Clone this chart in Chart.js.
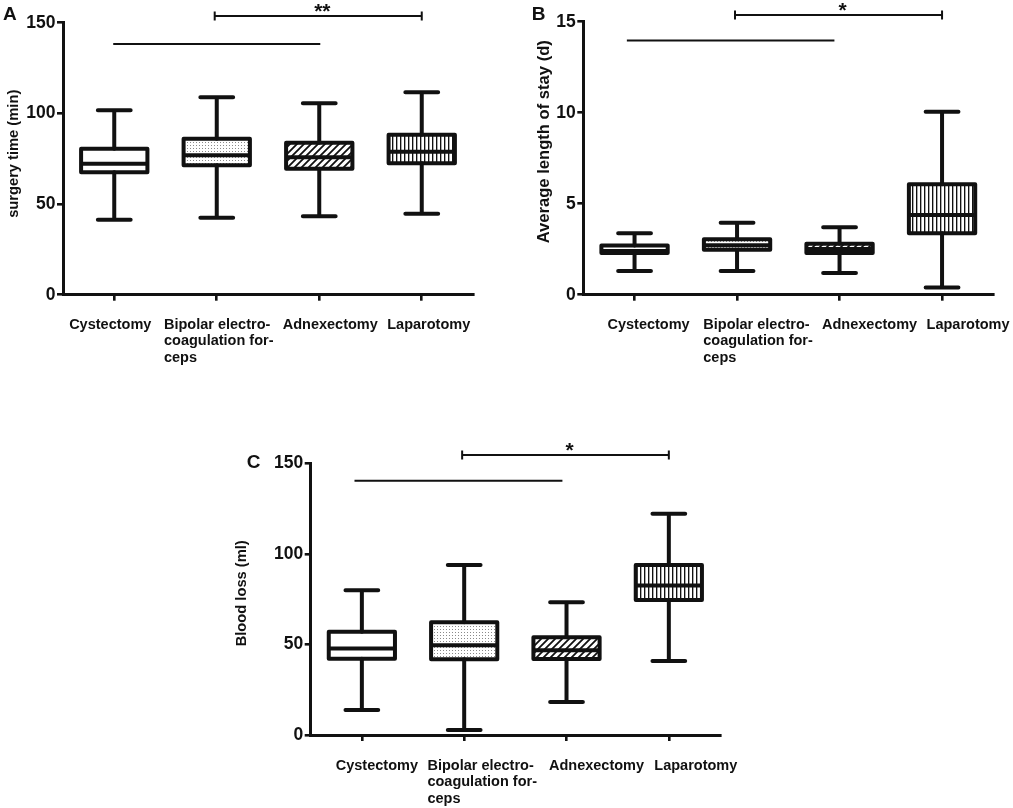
<!DOCTYPE html>
<html>
<head>
<meta charset="utf-8">
<script src="https://cdn.jsdelivr.net/npm/chart.js@4.4.1/dist/chart.umd.min.js"></script>
<style>
  html, body { margin: 0; padding: 0; background: #fff; }
  body { width: 1013px; height: 808px; position: relative; overflow: hidden; }
  canvas { position: absolute; }
</style>
</head>
<body>
<canvas id="chartA" width="500" height="370" style="left:0;top:0"></canvas>
<canvas id="chartB" width="513" height="370" style="left:500px;top:0"></canvas>
<canvas id="chartC" width="560" height="408" style="left:220px;top:400px"></canvas>
<script>
var categories = ['Cystectomy', 'Bipolar electro-coagulation forceps', 'Adnexectomy', 'Laparotomy'];
var tickLabels = [['Cystectomy'], ['Bipolar electro-', 'coagulation for-', 'ceps'], ['Adnexectomy'], ['Laparotomy']];

// A - surgery time (min)
var surgeryMin    = [41.3, 42.5, 43.2, 44.7];
var surgeryQ1     = [67.5, 71.4, 69.5, 72.5];
var surgeryMedian = [72.2, 76.9, 75.8, 78.9];
var surgeryQ3     = [80.5, 86.0, 83.8, 88.2];
var surgeryMax    = [101.7, 108.9, 105.6, 111.6];
var surgeryBracket = [0.98, 3.0, 153.7];   // from category, to category, level
var surgeryLine    = [-0.01, 2.01, 138.3];
var surgeryTicks   = [0, 50, 100, 150];

// B - average length of stay (d)
var stayMin    = [1.30, 1.30, 1.19, 0.40];
var stayQ1     = [2.29, 2.47, 2.29, 3.37];
var stayMedian = [2.40, 2.72, 2.51, 4.38];
var stayQ3     = [2.71, 3.04, 2.80, 6.07];
var stayMax    = [3.37, 3.96, 3.70, 10.05];
var stayBracket = [0.98, 3.0, 15.37];
var stayLine    = [-0.075, 1.95, 13.97];
var stayTicks   = [0, 5, 10, 15];

// C - blood loss (ml)
var bloodMin    = [13.8, 2.8, 18.2, 40.9];
var bloodQ1     = [42.1, 41.8, 42.0, 74.5];
var bloodMedian = [47.7, 49.5, 46.8, 82.6];
var bloodQ3     = [57.0, 62.2, 53.9, 93.9];
var bloodMax    = [79.9, 93.9, 73.3, 122.2];
var bloodBracket = [0.98, 3.0, 154.6];
var bloodLine    = [-0.072, 1.96, 140.3];
var bloodTicks   = [0, 50, 100, 150];

var FONT = '"Liberation Sans", Arial, Helvetica, sans-serif';
var INK = '#111';
Chart.defaults.font.family = FONT;

function makePattern(kind) {
  var c = document.createElement('canvas');
  var g;
  if (kind === 'dots') {
    c.width = 3; c.height = 3; g = c.getContext('2d');
    g.fillStyle = '#fff'; g.fillRect(0, 0, 3, 3);
    g.fillStyle = '#8a8a8a'; g.fillRect(1, 1, 1, 1);
  } else if (kind === 'diag') {
    c.width = 7; c.height = 7; g = c.getContext('2d');
    g.fillStyle = '#fff'; g.fillRect(0, 0, 7, 7);
    g.strokeStyle = INK; g.lineWidth = 1.8;
    g.beginPath();
    g.moveTo(-1, 8); g.lineTo(8, -1);
    g.moveTo(-1, 1); g.lineTo(1, -1);
    g.moveTo(6, 8); g.lineTo(8, 6);
    g.stroke();
  } else {
    c.width = 4; c.height = 4; g = c.getContext('2d');
    g.fillStyle = '#fff'; g.fillRect(0, 0, 4, 4);
    g.fillStyle = INK; g.fillRect(0, 0, 1, 4);
    g.fillStyle = '#aaa'; g.fillRect(1, 0, 1, 4);
  }
  return g.createPattern(c, 'repeat');
}

var boxFills = ['#ffffff', makePattern('dots'), makePattern('diag'), makePattern('vert')];

function boxPanel(id, cfg) {
  var decor = {
    id: 'boxDecor',
    afterDatasetsDraw: function(chart) {
      var ctx = chart.ctx, x = chart.scales.x, y = chart.scales.y;
      var bars = chart.getDatasetMeta(0).data;
      var step = x.getPixelForValue(1) - x.getPixelForValue(0);
      var capHalf = step * 0.16;
      ctx.save();
      ctx.strokeStyle = INK;
      ctx.lineCap = 'round';
      bars.forEach(function(bar, i) {
        var cx = bar.x, w = bar.width;
        var top = y.getPixelForValue(cfg.q3[i]), bot = y.getPixelForValue(cfg.q1[i]);
        var hi = y.getPixelForValue(cfg.max[i]), lo = y.getPixelForValue(cfg.min[i]);
        var med = y.getPixelForValue(cfg.median[i]);
        ctx.lineWidth = 4;
        ctx.beginPath();
        ctx.moveTo(cx, top); ctx.lineTo(cx, hi);
        ctx.moveTo(cx - capHalf, hi); ctx.lineTo(cx + capHalf, hi);
        ctx.moveTo(cx, bot); ctx.lineTo(cx, lo);
        ctx.moveTo(cx - capHalf, lo); ctx.lineTo(cx + capHalf, lo);
        ctx.stroke();
        ctx.lineJoin = 'round';
        ctx.strokeRect(cx - w / 2, top, w, bot - top);
        ctx.lineCap = 'butt';
        ctx.beginPath();
        ctx.moveTo(cx - w / 2, med); ctx.lineTo(cx + w / 2, med);
        ctx.stroke();
        ctx.lineCap = 'round';
      });
      ctx.restore();
    },
    afterDraw: function(chart) {
      var ctx = chart.ctx, x = chart.scales.x, y = chart.scales.y;
      ctx.save();
      ctx.strokeStyle = INK; ctx.fillStyle = INK;
      ctx.lineWidth = 2; ctx.lineCap = 'butt';

      // significance bracket with end ticks, and the plain line under it
      var bx1 = x.getPixelForValue(cfg.bracket[0]), bx2 = x.getPixelForValue(cfg.bracket[1]);
      var by = y.getPixelForValue(cfg.bracket[2]);
      ctx.beginPath();
      ctx.moveTo(bx1, by); ctx.lineTo(bx2, by);
      ctx.moveTo(bx1, by - 4.5); ctx.lineTo(bx1, by + 4.5);
      ctx.moveTo(bx2, by - 4.5); ctx.lineTo(bx2, by + 4.5);
      var lx1 = x.getPixelForValue(cfg.line[0]), lx2 = x.getPixelForValue(cfg.line[1]);
      var ly = y.getPixelForValue(cfg.line[2]);
      ctx.moveTo(lx1, ly); ctx.lineTo(lx2, ly);
      ctx.stroke();

      ctx.font = 'bold 21px ' + FONT;
      ctx.textAlign = 'center'; ctx.textBaseline = 'alphabetic';
      ctx.fillText(cfg.stars, x.getPixelForValue(2.03), by + 2.5);

      // category labels: line blocks, left aligned inside, centred near the tick
      ctx.font = 'bold 14.5px ' + FONT;
      ctx.textAlign = 'left';
      tickLabels.forEach(function(lines, i) {
        var w = 0;
        lines.forEach(function(l) { w = Math.max(w, ctx.measureText(l).width); });
        var left = x.getPixelForValue(i) + cfg.nudge[i] - w / 2;
        lines.forEach(function(l, k) {
          ctx.fillText(l, left, chart.chartArea.bottom + cfg.labelDy + k * 16.4);
        });
      });

      // panel letter
      ctx.font = 'bold 19px ' + FONT;
      ctx.fillText(cfg.letter[0], cfg.letter[1], cfg.letter[2]);

      // y axis title
      ctx.font = 'bold ' + cfg.title[3] + 'px ' + FONT;
      ctx.translate(cfg.title[1], cfg.title[2]);
      ctx.rotate(-Math.PI / 2);
      ctx.textAlign = 'center'; ctx.textBaseline = 'middle';
      ctx.fillText(cfg.title[0], 0, 0);
      ctx.restore();
    }
  };

  return new Chart(document.getElementById(id), {
    type: 'bar',
    data: {
      labels: categories,
      datasets: [{
        data: cfg.q1.map(function(v, i) { return [v, cfg.q3[i]]; }),
        backgroundColor: boxFills,
        borderWidth: 0,
        barPercentage: 0.647,
        categoryPercentage: 1
      }]
    },
    options: {
      responsive: false,
      animation: false,
      events: [],
      layout: { padding: cfg.padding },
      plugins: { legend: { display: false }, tooltip: { enabled: false } },
      scales: {
        x: {
          offset: true,
          grid: { drawOnChartArea: false, drawTicks: true, tickLength: 6, color: INK, lineWidth: 2.6, offset: false },
          border: { display: true, color: INK, width: 3 },
          ticks: { display: false },
          afterFit: function(s) { s.height = cfg.xHeight; }
        },
        y: {
          min: cfg.ticks[0],
          max: cfg.ticks[cfg.ticks.length - 1],
          afterBuildTicks: function(s) { s.ticks = cfg.ticks.map(function(v) { return { value: v }; }); },
          ticks: { color: INK, padding: 1.5, font: { size: cfg.tickSize, weight: 'bold' } },
          grid: { drawOnChartArea: false, drawTicks: true, tickLength: 6, color: INK, lineWidth: 2.6 },
          border: { display: true, color: INK, width: 3 },
          afterFit: function(s) { s.width = cfg.yWidth; }
        }
      }
    },
    plugins: [decor]
  });
}

boxPanel('chartA', {
  q1: surgeryQ1, q3: surgeryQ3, median: surgeryMedian, min: surgeryMin, max: surgeryMax,
  ticks: surgeryTicks, bracket: surgeryBracket, line: surgeryLine, stars: '**',
  padding: { left: 0, top: 22.7, right: 27, bottom: 0 }, yWidth: 63, xHeight: 75.3,
  tickSize: 17.5, nudge: [-4, 2, 11, 7], labelDy: 34,
  letter: ['A', 3, 20], title: ['surgery time (min)', 13.8, 153.8, 14.7]
});

boxPanel('chartB', {
  q1: stayQ1, q3: stayQ3, median: stayMedian, min: stayMin, max: stayMax,
  ticks: stayTicks, bracket: stayBracket, line: stayLine, stars: '*',
  padding: { left: 0, top: 21.7, right: 19.7, bottom: 0 }, yWidth: 83.3, xHeight: 75.3,
  tickSize: 17.5, nudge: [14, 21, 30, 26], labelDy: 34,
  letter: ['B', 31.7, 19.5], title: ['Average length of stay (d)', 44.5, 141.7, 16.6]
});

boxPanel('chartC', {
  q1: bloodQ1, q3: bloodQ3, median: bloodMedian, min: bloodMin, max: bloodMax,
  ticks: bloodTicks, bracket: bloodBracket, line: bloodLine, stars: '*',
  padding: { left: 0, top: 63.3, right: 60, bottom: 0 }, yWidth: 90.7, xHeight: 73,
  tickSize: 17.5, nudge: [15, 18, 30, 27], labelDy: 35,
  letter: ['C', 26.7, 68.3], title: ['Blood loss (ml)', 21.7, 193.3, 14.7]
});
</script>
</body>
</html>
